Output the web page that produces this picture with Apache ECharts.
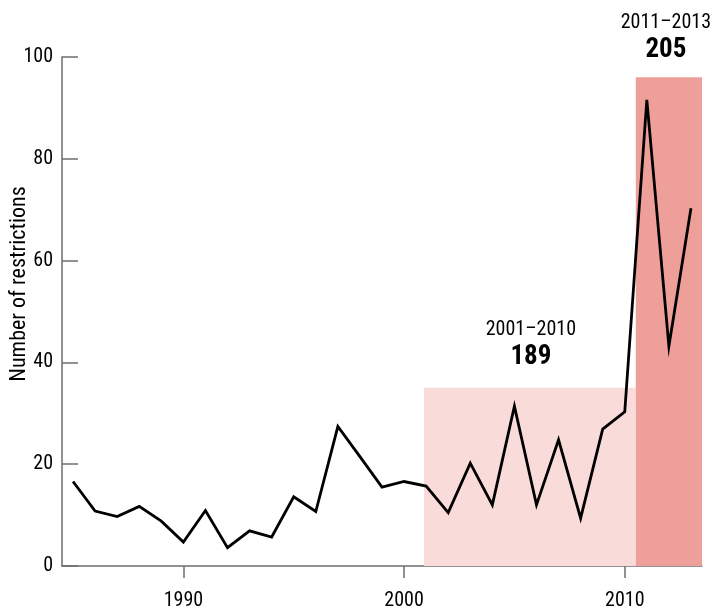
<!DOCTYPE html>
<html>
<head>
<meta charset="utf-8">
<script src="https://cdn.jsdelivr.net/npm/echarts@6/dist/echarts.min.js"></script>
<style>
html,body{margin:0;padding:0;background:#fff;}
#chart{width:711px;height:609px;}
</style>
</head>
<body>
<div id="chart"></div>
<script>
// ---- data ----
var years = [1985,1986,1987,1988,1989,1990,1991,1992,1993,1994,1995,1996,1997,1998,1999,
             2000,2001,2002,2003,2004,2005,2006,2007,2008,2009,2010,2011,2012,2013];
var restrictions = [16.6,10.8,9.7,11.7,8.8,4.7,10.9,3.6,6.9,5.7,13.6,10.7,27.4,21.5,15.5,
                    16.6,15.7,10.5,20.2,12.0,31.4,12.0,24.8,9.4,26.9,30.3,91.6,43.2,70.3];
var periodLabels = ['2001\u20132010', '2011\u20132013'];
var periodTotals = ['189', '205'];
var periodStart = [2000.9, 2010.5];
var periodEnd = [2010.5, 2013.5];
var periodHeight = [35, 96];
var xTickValues = [1990, 2000, 2010];
var yAxisTitle = 'Number of restrictions';

// ---- chart ----
var FONT = "'Liberation Sans Narrow', 'Arial Narrow', 'Roboto Condensed', 'Noto Sans Condensed', 'DejaVu Sans Condensed', sans-serif";
var bandColors = ['#f9dcda', '#ef9f99'];
var labelDist = [16, 12];
var labelOffset = [[1, 0], [-3, 0]];

var lineData = years.map(function (y, i) { return [y, restrictions[i]]; });
var areas = periodLabels.map(function (p, i) {
  return [
    {
      xAxis: periodStart[i], yAxis: 0,
      itemStyle: { color: bandColors[i], opacity: 1 },
      label: {
        show: true, position: 'top', distance: labelDist[i], offset: labelOffset[i],
        formatter: '{a|' + p + '}\n{b|' + periodTotals[i] + '}'
      }
    },
    { xAxis: periodEnd[i], yAxis: periodHeight[i] }
  ];
});

var chart = echarts.init(document.getElementById('chart'), null, { renderer: 'canvas' });
chart.setOption({
  animation: false,
  backgroundColor: '#ffffff',
  textStyle: { fontFamily: FONT },
  grid: { left: 62, right: 9, top: 57, bottom: 43, containLabel: false, outerBoundsMode: 'none' },
  graphic: [{
    type: 'text', x: 19, y: 284, rotation: Math.PI / 2,
    style: { text: yAxisTitle, fontSize: 22, fontFamily: FONT, fill: '#000',
      align: 'center', verticalAlign: 'middle' }
  }],
  xAxis: {
    type: 'value', min: 1984.5, max: 2013.5,
    axisLine: { show: true, lineStyle: { color: '#6e6e6e', width: 1.5 } },
    axisTick: { show: true, length: 12, inside: false, customValues: xTickValues,
      lineStyle: { color: '#6e6e6e', width: 1.5 } },
    axisLabel: { customValues: xTickValues, margin: 25, fontSize: 20, color: '#000',
      fontFamily: FONT, formatter: function (v) { return String(v); } },
    splitLine: { show: false }
  },
  yAxis: {
    type: 'value', min: 0, max: 100, interval: 20,
    axisLine: { show: true, lineStyle: { color: '#6e6e6e', width: 1.5 } },
    axisTick: { show: true, inside: true, length: 16,
      lineStyle: { color: '#6e6e6e', width: 1.5 } },
    axisLabel: { margin: 9, fontSize: 20, color: '#000', fontFamily: FONT },
    splitLine: { show: false }
  },
  series: [
    {
      type: 'line', name: 'bands', data: [], z: 1, silent: true,
      markArea: {
        silent: true,
        label: {
          color: '#000', fontFamily: FONT,
          rich: {
            a: { fontSize: 20, lineHeight: 24, color: '#000', fontFamily: FONT, align: 'center' },
            b: { fontSize: 27, lineHeight: 30, fontWeight: 'bold', color: '#000', fontFamily: FONT, align: 'center' }
          }
        },
        data: areas
      }
    },
    {
      type: 'line', name: 'restrictions', data: lineData, z: 5,
      symbol: 'none', smooth: false,
      lineStyle: { color: '#000', width: 2.8, join: 'miter' }
    }
  ]
});
</script>
</body>
</html>
